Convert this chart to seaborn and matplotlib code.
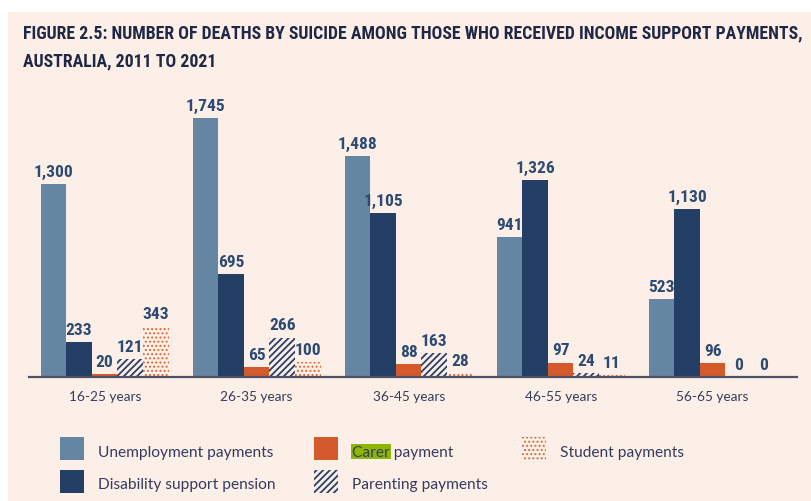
import matplotlib
matplotlib.use("Agg")
import matplotlib.pyplot as plt
from matplotlib import font_manager as fm
from matplotlib.patches import Rectangle
import seaborn as sns
import pandas as pd

# ---------------- data ----------------
age_groups = ["16-25 years", "26-35 years", "36-45 years", "46-55 years", "56-65 years"]
series_names = ["Unemployment payments", "Disability support pension", "Carer payment",
                "Parenting payments", "Student payments"]
unemployment = [1300, 1745, 1488, 941, 523]
disability = [233, 695, 1105, 1326, 1130]
carer = [20, 65, 88, 97, 96]
parenting = [121, 266, 163, 24, 0]
student = [343, 100, 28, 11, 0]
title_lines = ["FIGURE 2.5: NUMBER OF DEATHS BY SUICIDE AMONG THOSE WHO RECEIVED INCOME SUPPORT PAYMENTS,",
               "AUSTRALIA, 2011 TO 2021"]

series_values = [unemployment, disability, carer, parenting, student]
df = pd.DataFrame([
    {"age": a, "series": s, "deaths": v}
    for s, vals in zip(series_names, series_values)
    for a, v in zip(age_groups, vals)
])

# ---------------- style ----------------
BG = "#FBEFE7"
C_UNEMP = "#6586A2"
C_DISAB = "#243F66"
C_CARER = "#D55A2B"
C_PAREN = "#2B4066"
C_STUD = "#E0602F"
C_LABEL = "#2D4A73"
C_TEXT = "#343C5C"
C_TITLE = "#1F2845"


def has_font(name):
    try:
        fm.findfont(fm.FontProperties(family=name), fallback_to_default=False)
        return True
    except Exception:
        return False


cond_font = next((f for f in ["Liberation Sans Narrow", "Roboto Condensed", "DejaVu Sans"] if has_font(f)),
                 "DejaVu Sans")
body_font = next((f for f in ["Lato", "Inter", "Open Sans", "DejaVu Sans"] if has_font(f)), "DejaVu Sans")

sns.set_style("white")
plt.rcParams["font.family"] = [body_font, "DejaVu Sans"]
plt.rcParams["hatch.linewidth"] = 1.2

W, H = 811, 501
fig = plt.figure(figsize=(W / 100, H / 100), dpi=100, facecolor="white")


def fx(x):
    return x / W


def fy(y):
    return 1 - y / H


def style_dots(p):
    p.set_facecolor(BG)
    p.set_edgecolor(C_STUD)
    p.set_hatch("....")
    p.set_linewidth(0)
    if hasattr(p, "set_hatch_linewidth"):
        p.set_hatch_linewidth(0.9)


def style_stripes(p):
    p.set_facecolor(BG)
    p.set_edgecolor(C_PAREN)
    p.set_hatch("/////")
    p.set_linewidth(0)
    if hasattr(p, "set_hatch_linewidth"):
        p.set_hatch_linewidth(1.3)


# cream background panel
fig.add_artist(Rectangle((fx(8), 0), 1 - fx(8), fy(11.7), transform=fig.transFigure,
                         facecolor=BG, edgecolor="none", zorder=-10))

ax_left, ax_right, ax_top, ax_bottom = 29, 797, 100, 377
ax = fig.add_axes([fx(ax_left), fy(ax_bottom), fx(ax_right - ax_left), (ax_bottom - ax_top) / H])
ax.set_facecolor("none")

palette = dict(zip(series_names, [C_UNEMP, C_DISAB, C_CARER, BG, BG]))
sns.barplot(data=df, x="age", y="deaths", hue="series", hue_order=series_names, order=age_groups,
            palette=palette, width=0.842, gap=0, saturation=1, linewidth=0, legend=False, ax=ax,
            errorbar=None)

for bar in ax.containers[3]:
    style_stripes(bar)
for bar in ax.containers[4]:
    style_dots(bar)

for cont in ax.containers:
    ax.bar_label(cont, labels=[f"{int(round(b.get_height())):,}" for b in cont], padding=3,
                 fontsize=12.5, color=C_LABEL, fontfamily=cond_font, fontweight="bold",
                 fontstretch="condensed")

ax.set_xlim(-0.498, 4.555)
ax.set_ylim(0, 1868)
ax.set_xlabel("")
ax.set_ylabel("")
ax.set_yticks([])
for side in ["left", "right", "top"]:
    ax.spines[side].set_visible(False)
ax.spines["bottom"].set_color("#4D5268")
ax.spines["bottom"].set_linewidth(1.6)
ax.tick_params(axis="x", length=0, pad=10, labelsize=9.8, labelcolor=C_TEXT)
ax.grid(False)

# ---------------- title ----------------
renderer = fig.canvas.get_renderer()
t1 = fig.text(fx(23), fy(38.3), title_lines[0], fontfamily=cond_font, fontweight="bold",
              fontstretch="condensed", fontsize=13, color=C_TITLE, va="baseline", ha="left")
w1 = t1.get_window_extent(renderer).width
fs = 13 * 774 / w1
t1.set_fontsize(fs)
fig.text(fx(23), fy(66.7), title_lines[1], fontfamily=cond_font, fontweight="bold",
         fontstretch="condensed", fontsize=fs, color=C_TITLE, va="baseline", ha="left")

# ---------------- legend ----------------
LEG_FS = 11.2
legend_items = [
    (series_names[0], 60, 437, "solid", C_UNEMP),
    (series_names[1], 60, 470, "solid", C_DISAB),
    (series_names[2], 314, 437, "solid", C_CARER),
    (series_names[3], 314, 470, "stripes", None),
    (series_names[4], 522, 437, "dots", None),
]
for name, x0, y0, kind, col in legend_items:
    r = Rectangle((fx(x0), fy(y0 + 23)), fx(24), 23 / H, transform=fig.transFigure,
                  facecolor=col if col else BG, edgecolor="none", linewidth=0)
    if kind == "stripes":
        style_stripes(r)
    elif kind == "dots":
        style_dots(r)
    fig.add_artist(r)
    tx = x0 + 38
    cy = y0 + 14
    if name == "Carer payment":
        tmp = fig.text(0, 0, "Carer", fontsize=LEG_FS)
        cw = tmp.get_window_extent(renderer).width
        tmp.remove()
        fig.add_artist(Rectangle((fx(tx - 1.5), fy(cy + 7.5)), fx(cw + 3), 15 / H,
                                 transform=fig.transFigure, facecolor="#8DB600", edgecolor="none"))
    fig.text(fx(tx), fy(cy), name, fontsize=LEG_FS, color=C_TEXT, va="center_baseline", ha="left")

fig.savefig("out.png", dpi=100, facecolor="white")
